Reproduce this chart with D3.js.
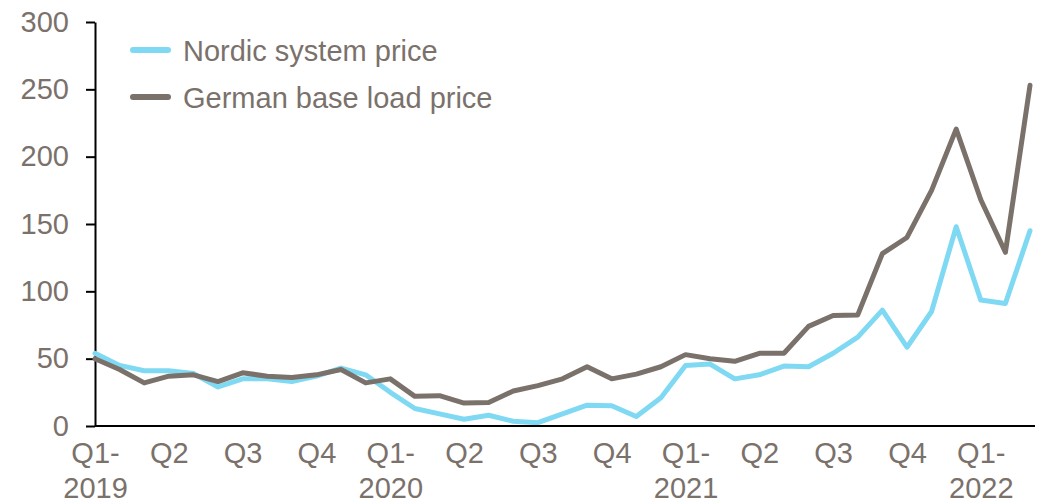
<!DOCTYPE html>
<html>
<head>
<meta charset="utf-8">
<script src="https://cdn.jsdelivr.net/npm/d3@7"></script>
<style>
  body { margin: 0; background: #fff; }
  text { font-family: "Liberation Sans", Arial, sans-serif; fill: #7b716b; }
</style>
</head>
<body>
<script>
// monthly categories, Jan 2019 .. Mar 2022
var months = ["2019-01","2019-02","2019-03","2019-04","2019-05","2019-06","2019-07","2019-08","2019-09","2019-10","2019-11","2019-12",
  "2020-01","2020-02","2020-03","2020-04","2020-05","2020-06","2020-07","2020-08","2020-09","2020-10","2020-11","2020-12",
  "2021-01","2021-02","2021-03","2021-04","2021-05","2021-06","2021-07","2021-08","2021-09","2021-10","2021-11","2021-12",
  "2022-01","2022-02","2022-03"];

var nordic = [54,45,41,41,39,29,35,35,33,37,43,38,25,13,9,5,8,3.5,2.5,9,15.5,15,7,21,
  45,46,35,38,44.5,44,54,66,86,58.5,85,148,93.5,91,145];
var german = [50,42,32,37,38,33,39.5,37,36,38,42,32,35,22,22.5,17,17.5,26,30,35,44,35,38.5,44,
  53,50,48,54,54,74,82,82.5,128,140,175,220.5,168,129,253];

// quarter tick labels (first month of each quarter)
var tickMonths = ["2019-01","2019-04","2019-07","2019-10","2020-01","2020-04","2020-07","2020-10",
  "2021-01","2021-04","2021-07","2021-10","2022-01"];
var tickLabels = ["Q1-|2019","Q2","Q3","Q4","Q1-|2020","Q2","Q3","Q4","Q1-|2021","Q2","Q3","Q4","Q1-|2022"];

var seriesNames = ["Nordic system price","German base load price"];
var colors = ["#80d9f3","#7b716b"];

var width = 1038, height = 501;

var svg = d3.select("body").append("svg")
    .attr("width", width)
    .attr("height", height);

var x = d3.scalePoint().domain(months).range([95, 1030]);
var y = d3.scaleLinear().domain([0, 300]).range([426, 22]);

// y axis
var yAxis = svg.append("g")
    .attr("transform", "translate(95,0)")
    .call(d3.axisLeft(y).tickValues([0,50,100,150,200,250,300]).tickSize(9).tickPadding(17).tickSizeOuter(0));
yAxis.select(".domain").attr("stroke", "#000").attr("stroke-width", 2);
yAxis.selectAll(".tick line").attr("stroke", "#000").attr("stroke-width", 2);
yAxis.selectAll(".tick text")
    .attr("font-size", 29)
    .style("font-family", "'Liberation Sans', Arial, sans-serif")
    .attr("fill", "#7b716b");

// lines
var line = d3.line()
    .x(function(d, i) { return x(months[i]); })
    .y(function(d) { return y(d); });

[nordic, german].forEach(function(s, k) {
  svg.append("path")
      .datum(s)
      .attr("fill", "none")
      .attr("stroke", colors[k])
      .attr("stroke-width", 5)
      .attr("stroke-linejoin", "round")
      .attr("stroke-linecap", "round")
      .attr("d", line);
});

// x axis
var xAxis = svg.append("g")
    .attr("transform", "translate(0,426)")
    .call(d3.axisBottom(x).tickValues(tickMonths).tickSize(0).tickSizeOuter(0).tickFormat(""));
xAxis.select(".domain").attr("d", "M95,0H1035").attr("stroke", "#000").attr("stroke-width", 2);

xAxis.selectAll(".tick").each(function(d) {
  var parts = tickLabels[tickMonths.indexOf(d)].split("|");
  var t = d3.select(this).append("text")
      .attr("text-anchor", "middle")
      .attr("font-size", 29)
      .attr("fill", "#7b716b");
  parts.forEach(function(p, j) {
    t.append("tspan").attr("x", 0).attr("y", 37 + j * 35).text(p);
  });
});

// legend
var legend = svg.append("g");
seriesNames.forEach(function(name, k) {
  var ly = 50 + k * 47;
  legend.append("line")
      .attr("x1", 133).attr("x2", 168)
      .attr("y1", ly).attr("y2", ly)
      .attr("stroke", colors[k])
      .attr("stroke-width", 6)
      .attr("stroke-linecap", "round");
  legend.append("text")
      .attr("x", 183).attr("y", ly + 11)
      .attr("font-size", 29)
      .text(name);
});
</script>
</body>
</html>
